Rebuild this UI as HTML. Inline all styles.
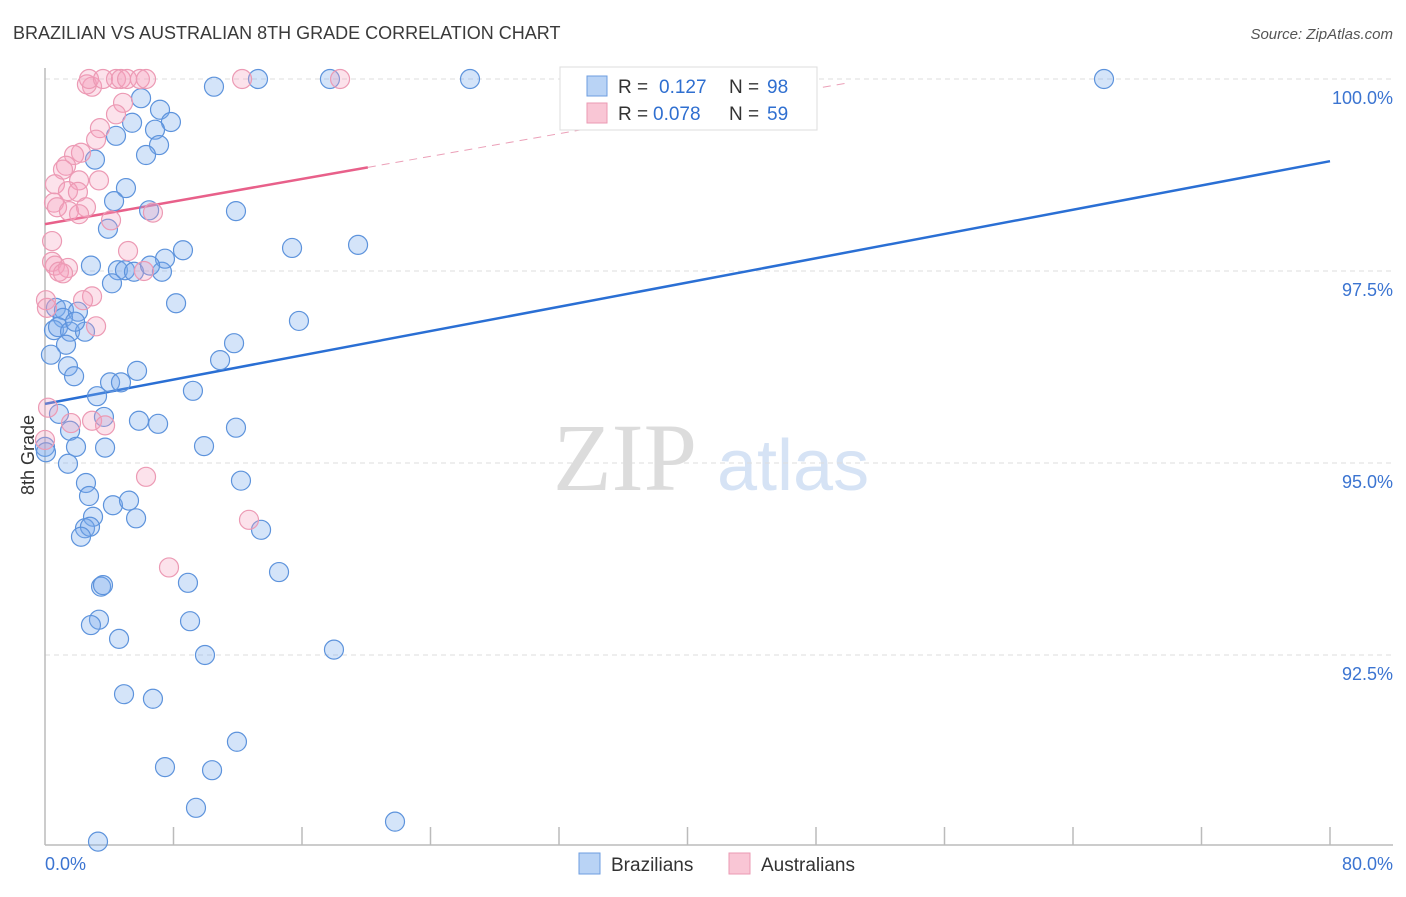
<!DOCTYPE html>
<html><head><meta charset="utf-8"><style>
body{margin:0;background:#fff;font-family:"Liberation Sans",sans-serif}
</style></head><body>
<svg id="chart" width="1406" height="892" viewBox="0 0 1406 892" xmlns="http://www.w3.org/2000/svg" font-family="Liberation Sans, sans-serif">
<text x="13" y="39" font-size="18" fill="#3a3a3a">BRAZILIAN VS AUSTRALIAN 8TH GRADE CORRELATION CHART</text>
<text x="1393" y="39" font-size="15" fill="#555" font-style="italic" text-anchor="end">Source: ZipAtlas.com</text>
<g>
<text x="553" y="490" font-size="96" fill="#dcdcdc" font-family="Liberation Serif, serif">ZIP</text>
<text x="717" y="490" font-size="72" fill="#d6e3f5">atlas</text>
</g>
<g id="grid"></g>
<g id="axes"></g>
<g id="trends"></g>
<g id="pts"></g>
<text transform="translate(34,455) rotate(-90)" font-size="18" fill="#333" text-anchor="middle">8th Grade</text>
<g>
<rect x="560" y="67" width="257" height="63" fill="#fff" stroke="#ddd"/>
<rect x="587" y="76" width="20" height="20" fill="#b9d3f5" stroke="#6d9ee0"/>
<rect x="587" y="103" width="20" height="20" fill="#f9c6d5" stroke="#eb9ab3"/>
<text x="618" y="93" font-size="19" fill="#333">R = </text><text x="659" y="93" font-size="19" fill="#2f6fd0">0.127</text>
<text x="729" y="93" font-size="19" fill="#333">N = </text><text x="767" y="93" font-size="19" fill="#2f6fd0">98</text>
<text x="618" y="120" font-size="19" fill="#333">R = </text><text x="653" y="120" font-size="19" fill="#2f6fd0">0.078</text>
<text x="729" y="120" font-size="19" fill="#333">N = </text><text x="767" y="120" font-size="19" fill="#2f6fd0">59</text>
</g>
<g>
<rect x="579" y="853" width="21" height="21" fill="#b9d3f5" stroke="#6d9ee0"/>
<text x="611" y="871" font-size="19" fill="#333">Brazilians</text>
<rect x="729" y="853" width="21" height="21" fill="#f9c6d5" stroke="#eb9ab3"/>
<text x="761" y="871" font-size="19" fill="#333">Australians</text>
</g>
</svg>
<script>
const yTicks=[100,97.5,95,92.5];
const yTickLabels=["100.0%","97.5%","95.0%","92.5%"];
const xTickLabels=["0.0%","80.0%"];
const blueX=[10.52,13.26,17.74,26.46,65.93,5.98,7.16,5.42,7.84,4.42,6.85,7.10,6.29,3.11,5.04,4.30,11.89,6.48,3.92,8.59,15.38,19.49,2.86,4.54,4.98,5.54,7.28,7.47,6.54,4.17,8.16,15.81,0.68,1.18,2.05,1.12,0.56,0.81,1.56,2.49,1.87,1.31,11.77,0.37,10.90,1.43,1.81,5.73,4.05,4.73,3.24,9.21,0.87,3.67,5.85,7.04,11.89,1.56,0,0.06,1.93,3.74,9.90,1.43,2.55,2.74,12.20,4.23,5.23,5.67,2.99,2.49,2.80,2.24,13.45,14.57,3.49,3.61,8.90,3.36,2.86,9.03,4.61,9.96,17.99,4.92,6.72,11.95,7.47,10.40,9.40,21.79,3.30];
const blueY=[99.90,100,100,100,100,99.75,99.60,99.43,99.44,99.26,99.34,99.14,99.01,98.95,98.58,98.41,98.28,98.29,98.05,97.77,97.80,97.84,97.57,97.51,97.51,97.49,97.49,97.66,97.57,97.34,97.08,96.85,97.02,96.99,96.97,96.89,96.73,96.77,96.71,96.71,96.84,96.54,96.56,96.41,96.34,96.26,96.13,96.20,96.05,96.05,95.87,95.94,95.64,95.60,95.55,95.51,95.46,95.42,95.21,95.14,95.21,95.20,95.22,94.99,94.74,94.57,94.77,94.45,94.51,94.28,94.30,94.15,94.17,94.04,94.13,93.58,93.39,93.41,93.44,92.96,92.89,92.94,92.71,92.50,92.57,91.99,91.93,91.37,91.04,91.00,90.51,90.33,90.07];
const pinkX=[2.93,2.61,2.74,3.61,4.42,4.73,5.11,5.91,6.29,12.27,18.37,4.86,4.42,3.42,3.18,2.24,1.81,1.31,1.12,0.62,2.12,3.36,1.43,2.05,0.56,2.55,4.11,0.75,1.49,2.12,6.72,0.44,5.17,0.44,0.62,1.43,0.87,1.12,6.16,2.93,2.37,0.06,0.12,3.18,0.19,1.62,2.93,3.74,6.29,12.70,7.72,0];
const pinkY=[99.90,99.93,100,100,100,100,100,100,100,100,100,99.69,99.54,99.36,99.21,99.04,99.01,98.87,98.82,98.63,98.68,98.68,98.54,98.53,98.39,98.33,98.16,98.33,98.28,98.24,98.26,97.89,97.76,97.62,97.57,97.54,97.49,97.47,97.50,97.17,97.12,97.12,97.02,96.78,95.72,95.52,95.55,95.49,94.82,94.26,93.64,95.30];
const blueTrend=[95.77,98.93]; // value at x=0 and x=80
const pinkTrend=[98.11,0.0368]; // intercept, slope
const sx=v=>45+v/80*1285;
const sy=v=>79+(100-v)*76.8;
const NS="http://www.w3.org/2000/svg";
function mk(tag,attrs,parent){const e=document.createElementNS(NS,tag);for(const k in attrs)e.setAttribute(k,attrs[k]);parent.appendChild(e);return e;}
const grid=document.getElementById('grid'),axes=document.getElementById('axes');
yTicks.forEach((t,i)=>{
  const l=mk('line',{x1:45,x2:1393,y1:sy(t),y2:sy(t),stroke:'#ddd','stroke-dasharray':'5,4'},grid);
  
  
  const tx=mk('text',{x:1393,y:sy(t)+25,'font-size':18,fill:'#3b74d1','text-anchor':'end'},grid);
  tx.textContent=yTickLabels[i];
  
  
});
const ax=mk('line',{x1:45,x2:1393,y1:845,y2:845,stroke:'#bbb','stroke-width':1.5},axes);


const ay=mk('line',{x1:45,x2:45,y1:68,y2:845,stroke:'#bbb','stroke-width':1.5},axes);


for(let k=1;k<=10;k++){const v=k*8;const t=mk('line',{x1:sx(v),x2:sx(v),y1:827,y2:845,stroke:'#bbb','stroke-width':1.5},axes);
  
  }
[[0,'start'],[80,'end']].forEach((p,i)=>{const t=mk('text',{x:i?1393:45,y:870,'font-size':18,fill:'#3b74d1','text-anchor':p[1]},axes);t.textContent=xTickLabels[i];
  
  });
const pts=document.getElementById('pts');
blueX.forEach((x,i)=>{const c=mk('circle',{cx:sx(x),cy:sy(blueY[i]),r:9.5,fill:'rgba(120,170,235,0.32)',stroke:'#5d93dc','stroke-width':1.2},pts);
  
  });
pinkX.forEach((x,i)=>{const c=mk('circle',{cx:sx(x),cy:sy(pinkY[i]),r:9.5,fill:'rgba(245,160,190,0.3)',stroke:'#ec9ab4','stroke-width':1.2},pts);
  
  });
const tr=document.getElementById('trends');
const b=mk('line',{x1:sx(0),y1:sy(blueTrend[0]),x2:sx(80),y2:sy(blueTrend[1]),stroke:'#2a6fd4','stroke-width':2.5},tr);


const pe=20.1,pd=50.1;
const p=mk('line',{x1:sx(0),y1:sy(pinkTrend[0]),x2:sx(pe),y2:sy(pinkTrend[0]+pinkTrend[1]*pe),stroke:'#e8608a','stroke-width':2.5},tr);


const pdl=mk('line',{x1:sx(pe),y1:sy(pinkTrend[0]+pinkTrend[1]*pe),x2:sx(pd),y2:sy(pinkTrend[0]+pinkTrend[1]*pd),stroke:'#eba0b8','stroke-width':1,'stroke-dasharray':'8,6'},tr);


</script>
</body></html>
